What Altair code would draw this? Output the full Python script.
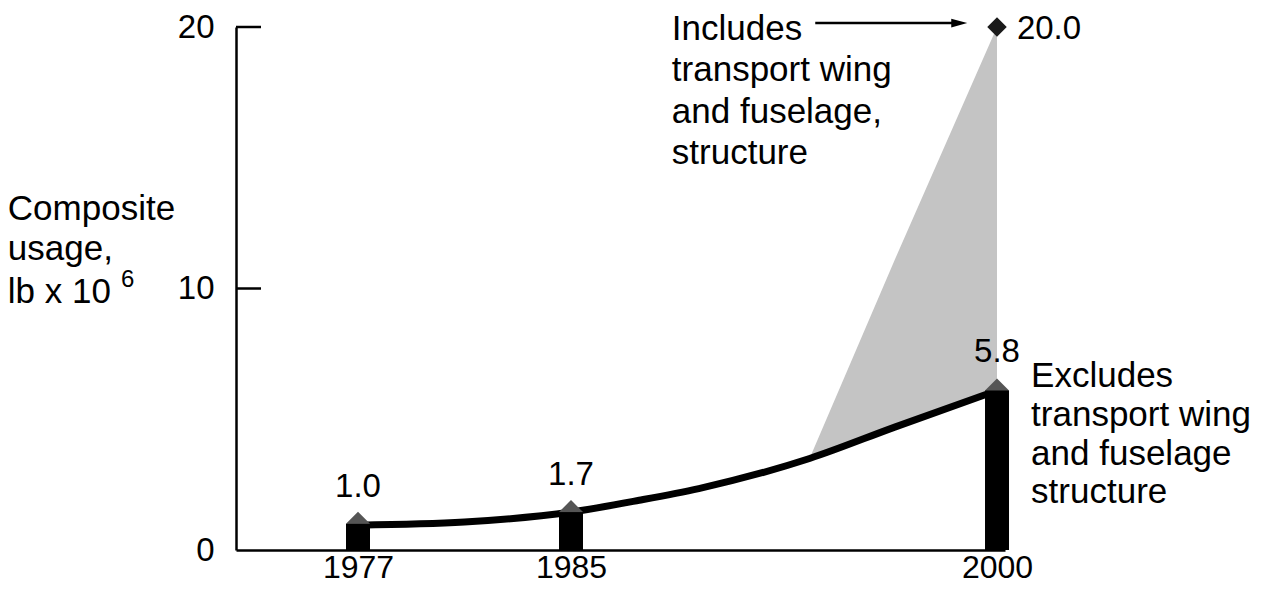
import altair as alt
import pandas as pd

# ---- data ----
bar_years = [1977, 1985, 2000]
bar_tops = [1.0, 1.45, 6.1]
bar_labels = ["1.0", "1.7", "5.8"]
bar_label_values = [2.03, 2.49, 7.2]

line_years = [1977, 1981, 1985, 1987.4, 1989.5, 1993.4, 1996.4, 2000]
line_values = [0.95, 1.07, 1.45, 1.9, 2.35, 3.5, 4.7, 6.1]

area_years = [1993.4, 1996.4, 2000]
area_upper = [3.5, 11.1, 20.0]
area_lower = [3.5, 4.7, 6.1]

peak_year = [2000]
peak_value = [20.0]
peak_label = ["20.0"]
peak_label_year = [2000.7]
peak_label_value = [19.55]

arrow_years = [1993.6, 1998.67]
arrow_value = [20.15]

incl_lines = ["Includes", "transport wing", "and fuselage,", "structure"]
incl_values = [19.5, 17.92, 16.34, 14.78]
incl_year = [1988.55]

excl_lines = ["Excludes", "transport wing", "and fuselage", "structure"]
excl_values = [6.23, 4.74, 3.25, 1.80]
excl_year = [2001.2]

ytitle_lines = ["Composite", "usage,", "lb x 10"]
ytitle_values = [12.62, 11.09, 9.45]
ytitle_year = [1963.85]
sup_text = ["6"]
sup_year = [1968.1]
sup_value = [10.06]

x_ticks = [1977, 1985, 2000]
y_ticks = [0, 10, 20]
inner_ticks = [10, 20]

FONT = "Liberation Sans"

xscale = alt.Scale(domain=[1972.6, 1985, 2000.1], range=[0, 335, 769], nice=False, zero=False)
yscale = alt.Scale(domain=[0, 20], nice=False, zero=False)

xaxis = alt.Axis(
    values=x_ticks, format="d", ticks=False, grid=False, title=None,
    labelFont=FONT, labelFontSize=32, labelColor="black", labelPadding=2,
    domainColor="black", domainWidth=2.5, labelFlush=False, labelOverlap=False,
)
yaxis = alt.Axis(
    values=y_ticks, ticks=False, grid=False, title=None,
    labelFont=FONT, labelFontSize=33, labelColor="black", labelPadding=22,
    domainColor="black", domainWidth=2.5, labelFlush=False, labelOverlap=False,
)


def X(field="year"):
    return alt.X(f"{field}:Q", scale=xscale, axis=xaxis)


def Y(field="value"):
    return alt.Y(f"{field}:Q", scale=yscale, axis=yaxis)


bars_df = pd.DataFrame({"year": bar_years, "value": bar_tops, "base": [0] * len(bar_years)})
labels_df = pd.DataFrame({"year": bar_years, "value": bar_label_values, "text": bar_labels})
line_df = pd.DataFrame({"year": line_years, "value": line_values})
area_df = pd.DataFrame({"year": area_years, "value": area_upper, "lower": area_lower})
peak_df = pd.DataFrame({"year": peak_year, "value": peak_value})
peak_lab_df = pd.DataFrame({"year": peak_label_year, "value": peak_label_value, "text": peak_label})
arrow_df = pd.DataFrame({"year": [arrow_years[0]], "year2": [arrow_years[1]], "value": arrow_value})
head_df = pd.DataFrame({"year": [arrow_years[1]], "value": arrow_value})
incl_df = pd.DataFrame({"year": incl_year * len(incl_lines), "value": incl_values, "text": incl_lines})
excl_df = pd.DataFrame({"year": excl_year * len(excl_lines), "value": excl_values, "text": excl_lines})
yt_df = pd.DataFrame({"year": ytitle_year * len(ytitle_lines), "value": ytitle_values, "text": ytitle_lines})
sup_df = pd.DataFrame({"year": sup_year, "value": sup_value, "text": sup_text})
tick_df = pd.DataFrame({"value": inner_ticks})

area = alt.Chart(area_df).mark_area(color="#c4c4c4").encode(
    x=X(), y=Y(), y2="lower:Q"
)

line = alt.Chart(line_df).mark_line(color="black", strokeWidth=7, interpolate="monotone").encode(
    x=X(), y=Y()
)

roofs = alt.Chart(bars_df).mark_point(
    shape="diamond", filled=True, size=576, color="#555555", opacity=1
).encode(x=X(), y=Y())

bars = alt.Chart(bars_df).mark_bar(size=24, color="black").encode(
    x=X(), y=Y(), y2="base:Q"
)

inner = alt.Chart(tick_df).mark_rule(color="black", strokeWidth=2.5).encode(
    x=alt.value(0), x2=alt.value(25), y=Y()
)

value_labels = alt.Chart(labels_df).mark_text(
    font=FONT, fontSize=33, color="black", align="center", baseline="alphabetic"
).encode(x=X(), y=Y(), text="text:N")

peak = alt.Chart(peak_df).mark_point(
    shape="diamond", filled=True, size=380, color="#1a1a1a", opacity=1
).encode(x=X(), y=Y())

arrow = alt.Chart(arrow_df).mark_rule(color="black", strokeWidth=2.5).encode(
    x=X(), x2="year2:Q", y=Y()
)

head = alt.Chart(head_df).mark_point(
    shape="M-1,-0.55L1,0L-1,0.55Z", filled=True, size=256, color="black", opacity=1
).encode(x=X(), y=Y())


def block(df, size=35):
    return alt.Chart(df).mark_text(
        font=FONT, fontSize=size, color="black", align="left", baseline="alphabetic"
    ).encode(x=X(), y=Y(), text="text:N")


chart = alt.layer(
    area, line, roofs, bars, inner, value_labels, peak, arrow, head,
    block(peak_lab_df, 33), block(incl_df), block(excl_df), block(yt_df), block(sup_df, 24),
).properties(
    width=769,
    height=523,
    padding={"left": 228, "top": 19, "right": 255, "bottom": 35},
    autosize=alt.AutoSizeParams(type="none"),
    background="white",
).configure_view(stroke=None)

chart.save("out.html", embed_options={"renderer": "svg", "actions": False})
